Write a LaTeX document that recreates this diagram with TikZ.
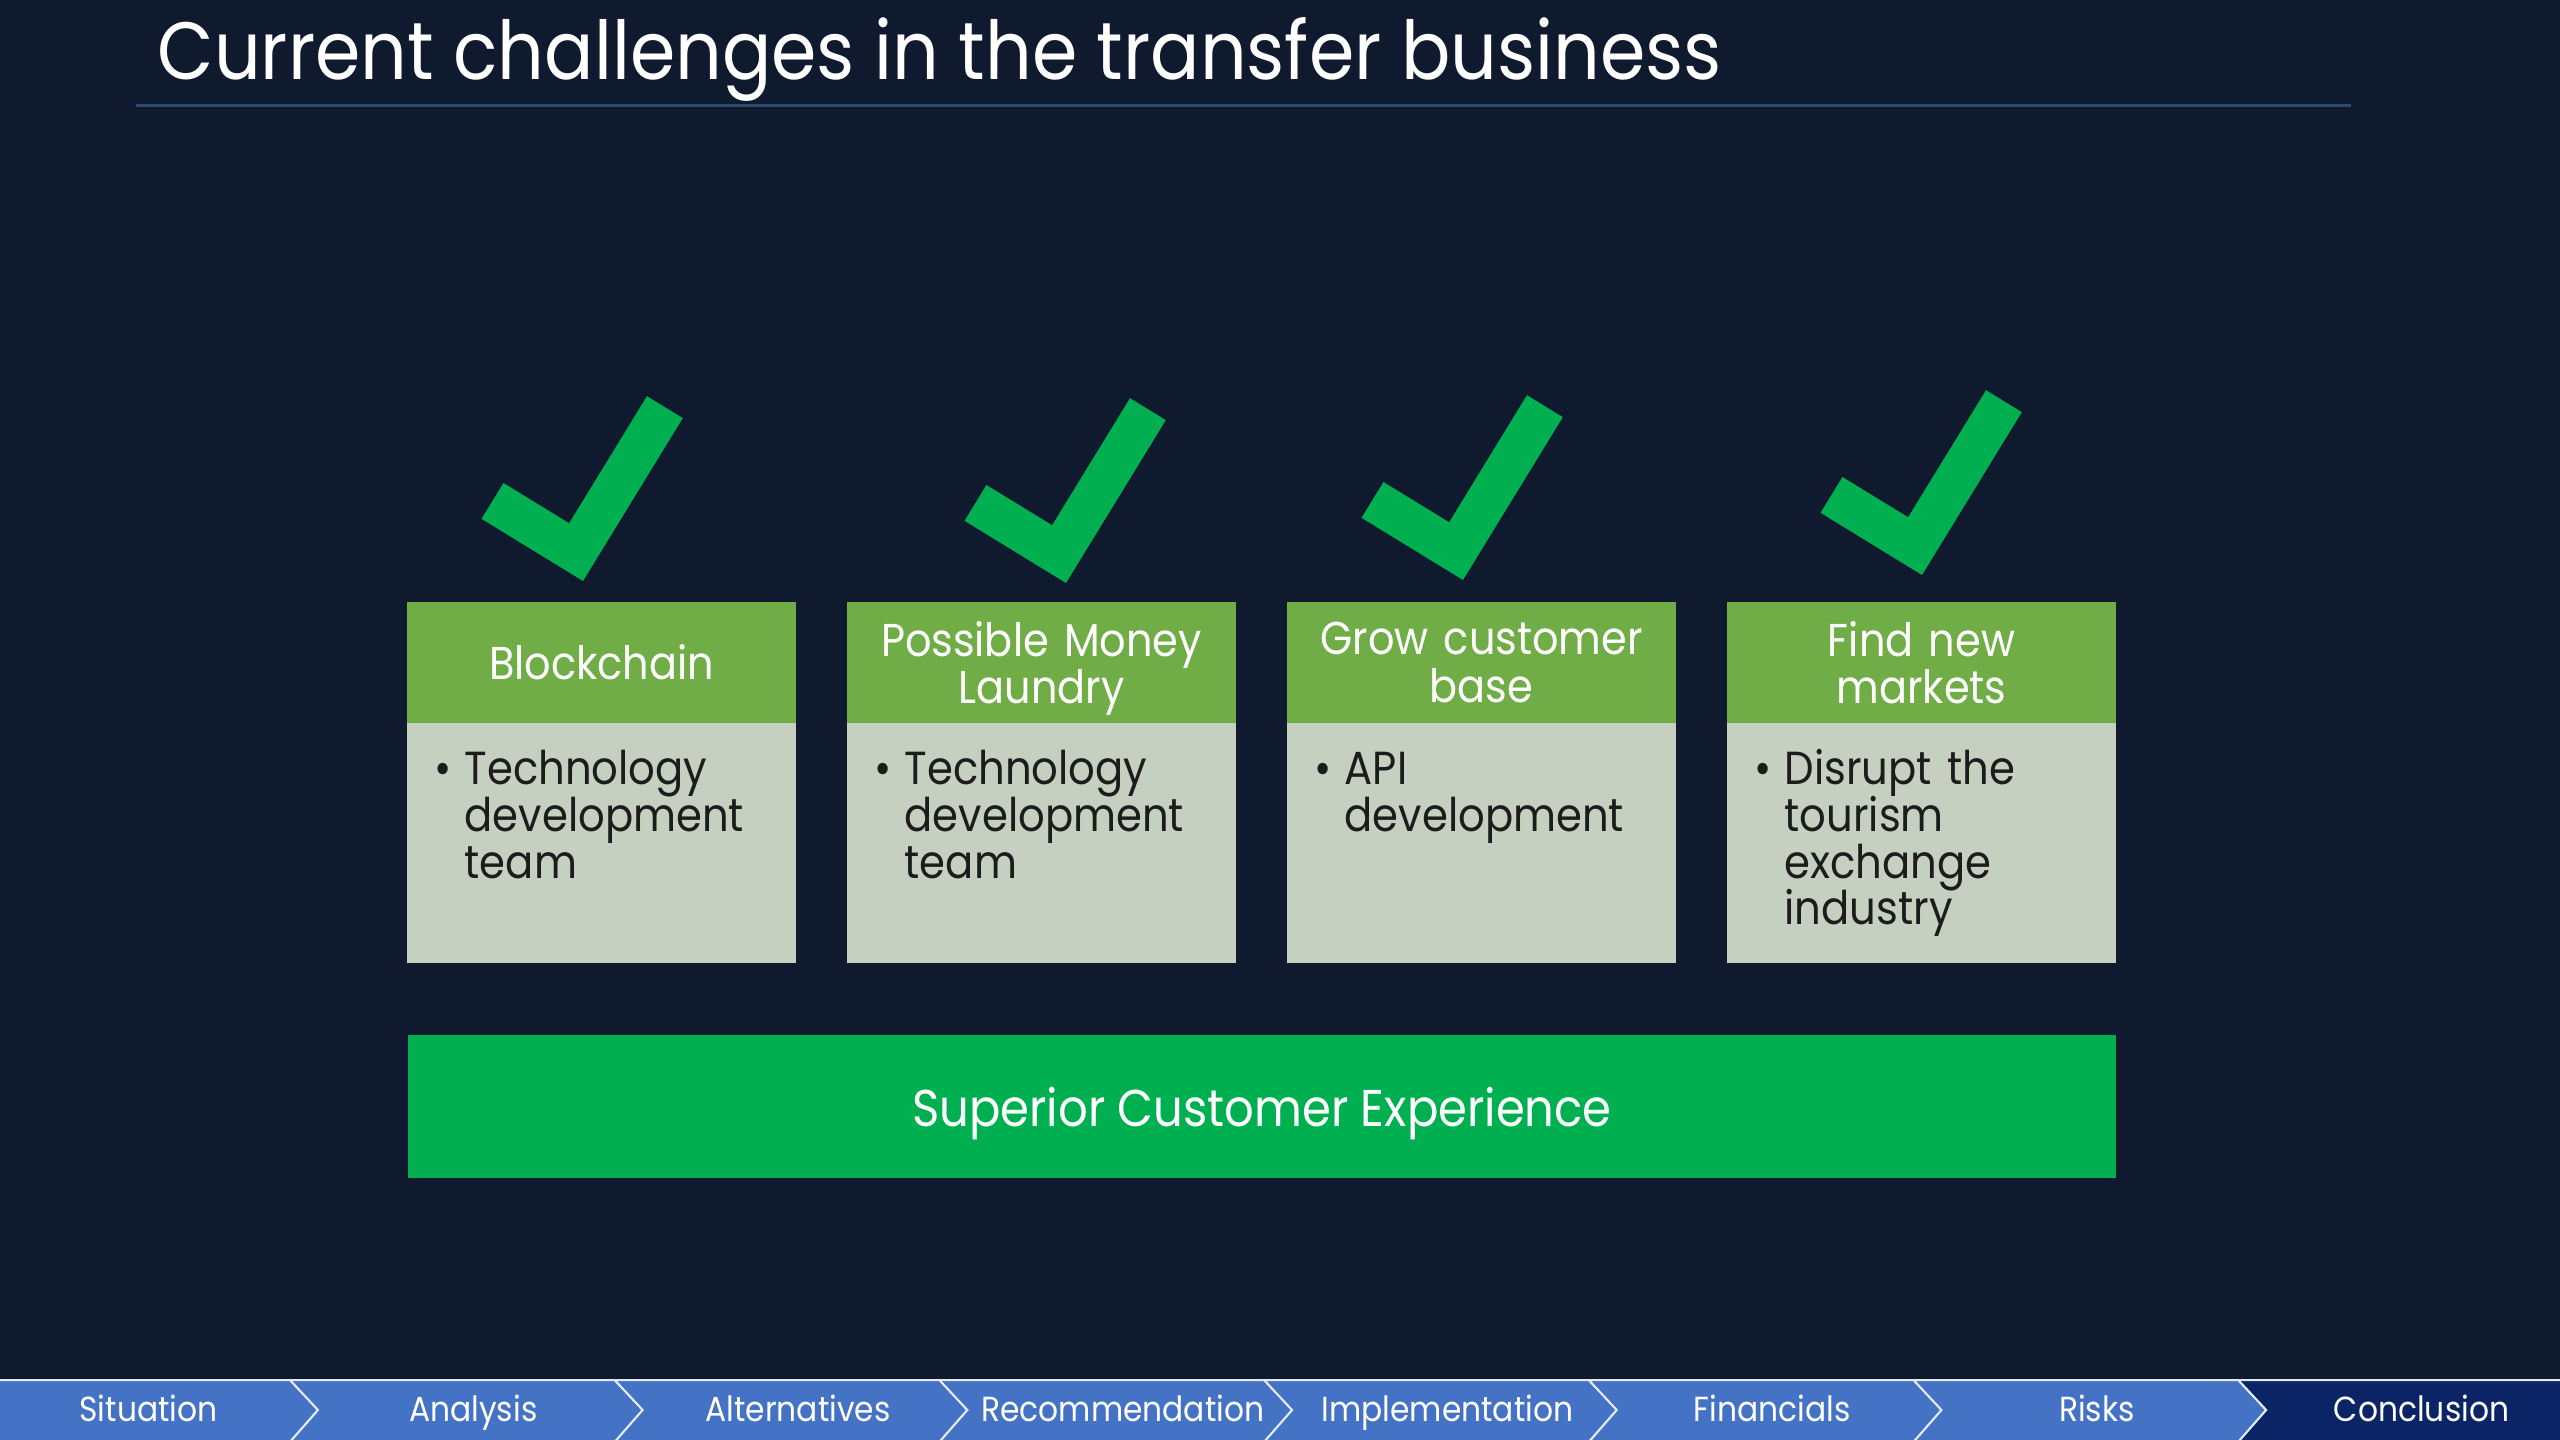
\documentclass[tikz,border=0pt]{standalone}
\usepackage{fontspec}
\setmainfont{Poppins}[FakeStretch=0.9]
\definecolor{bg}{HTML}{0F1A2F}
\definecolor{rulec}{HTML}{2C4A70}
\definecolor{hdrgreen}{HTML}{70AD47}
\definecolor{bodygray}{HTML}{C5D0C0}
\definecolor{brightgreen}{HTML}{00B050}
\definecolor{navblue}{HTML}{4472C4}
\definecolor{navdark}{HTML}{0A2466}
\definecolor{bodytext}{HTML}{1C1C1C}
\newlength\px
\setlength\px{0.1mm}
\newcommand\tightlines{\lineskiplimit=-50pt\relax\lineskip=0pt\relax}
\tikzset{
  hdrbox/.style={fill=hdrgreen, inner sep=0pt, text width=389\px, minimum height=121\px,
    align=center, text=white, font=\fontsize{13.1pt}{13.4pt}\selectfont},
  bodybox/.style={fill=bodygray, inner sep=0pt, minimum width=389\px, minimum height=240\px},
  bodytxt/.style={anchor=north west, inner sep=0pt, text width=340\px, align=left,
    text=bodytext, font=\fontsize{13.2pt}{13.3pt}\selectfont},
  barbox/.style={fill=brightgreen, inner sep=0pt, minimum width=1708\px, minimum height=143\px,
    text=white, font=\fontsize{14.7pt}{18pt}\selectfont},
  navtxt/.style={anchor=base, text=white, inner sep=0pt, font=\fontsize{9.9pt}{11pt}\selectfont},
  titletxt/.style={anchor=base west, inner sep=0pt, text=white, font=\fontsize{23.1pt}{28pt}\selectfont},
  pics/chk/.style={code={\fill[brightgreen] (0,0) -- (-119,0) -- (-119,42) -- (-42,42) -- (-42,191) -- (0,191) -- cycle;}}
}
\newcommand\firstl{\rule{0pt}{40\px}}
\newcommand\bul{\tightlines\leftskip=30\px\relax\firstl\llap{\makebox[30\px][l]{\textbullet}}}
\begin{document}
\begin{tikzpicture}[x=0.1mm,y=0.1mm]
\fill[bg] (0,0) rectangle (2560,-1440);
\useasboundingbox (0,0) rectangle (2560,-1440);

% title
\node[titletxt] (title) at (157,-80) {Current challenges in the transfer business};
\draw[rulec, line width=3\px] (136,-106) -- (2351,-106);

% check marks
\pic[rotate=-31.5] at (583,-581) {chk};
\pic[rotate=-31.5] at (1066,-583) {chk};
\pic[rotate=-31.5] at (1463,-580) {chk};
\pic[rotate=-31.5] at (1922,-575) {chk};

% boxes
\node[bodybox] (r1) at (601.5,-843) {};
\node[bodybox] (r2) at (1041.5,-843) {};
\node[bodybox] (r3) at (1481.5,-843) {};
\node[bodybox] (r4) at (1921.5,-843) {};

\node[hdrbox] (h1) at (601.5,-662.5) {Blockchain};
\node[hdrbox] (h2) at (1041.5,-662.5) {\tightlines\rule{0pt}{46\px}Possible Money\\Laundry\par};
\node[hdrbox] (h3) at (1481.5,-662.5) {\tightlines Grow customer\\base\par};
\node[hdrbox] (h4) at (1921.5,-662.5) {\tightlines Find new\\markets\par};

\node[bodytxt] (t1) at (434,-744) {\bul Technology\\development\\team\par};
\node[bodytxt] (t2) at (874,-744) {\bul Technology\\development\\team\par};
\node[bodytxt] (t3) at (1314,-744) {\bul API\\development\par};
\node[bodytxt] (t4) at (1754,-744) {\bul Disrupt the\\tourism\\exchange\\industry\par};

% bottom bar
\node[barbox] (bar) at (1262,-1106.5) {\raisebox{-20\px}[0pt][0pt]{Superior Customer Experience}};

% navigation
\foreach \i/\lab/\c in {0/Situation/navblue,1/Analysis/navblue,2/Alternatives/navblue,
  3/Recommendation/navblue,4/Implementation/navblue,5/Financials/navblue,6/Risks/navblue,7/Conclusion/navdark}{
  \pgfmathsetmacro\xl{\i==0 ? -35 : 290+324.7*(\i-1)}
  \pgfmathsetmacro\xr{290+324.7*\i}
  \filldraw[fill=\c, draw=white!85!navblue, line width=2\px, line join=miter]
    (\xl,-1380) -- ({\xl+28},-1410) -- (\xl,-1442) -- (\xr,-1442) -- ({\xr+28},-1410) -- (\xr,-1380) -- cycle;
  \node[navtxt] (n\i) at ({(\xl+\xr)/2+21},-1421) {\lab};
}
\end{tikzpicture}
\end{document}
